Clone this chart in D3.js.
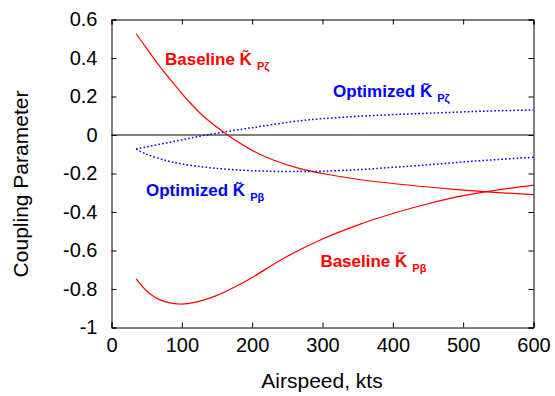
<!DOCTYPE html>
<html>
<head>
<meta charset="utf-8">
<script src="https://cdn.jsdelivr.net/npm/d3@7"></script>
<style>
  html, body { margin: 0; padding: 0; background: #fff; }
  svg { display: block; font-family: "Liberation Sans", Arial, Helvetica, sans-serif; }
</style>
</head>
<body>
<svg id="chart" width="555" height="396"></svg>
<script>
// Airspeed (kts) samples for each coupling curve
const baseZetaSpeed = [35, 50, 70, 90, 109, 130, 150, 165, 200, 230, 268, 300, 350, 400, 450, 500, 550, 600];
const baseZetaValue = [0.526, 0.45, 0.35, 0.26, 0.178, 0.10, 0.04, 0.0, -0.08, -0.13, -0.175, -0.20, -0.23, -0.252, -0.27, -0.286, -0.299, -0.31];

const baseBetaSpeed = [35, 50, 70, 97, 120, 150, 183, 200, 250, 300, 350, 400, 450, 500, 550, 600];
const baseBetaValue = [-0.748, -0.81, -0.858, -0.878, -0.868, -0.833, -0.775, -0.74, -0.63, -0.54, -0.468, -0.408, -0.357, -0.315, -0.285, -0.26];

const optZetaSpeed = [35, 85, 135, 200, 268, 300, 350, 400, 450, 500, 550, 600];
const optZetaValue = [-0.073, -0.036, 0.0, 0.038, 0.074, 0.085, 0.097, 0.106, 0.113, 0.12, 0.126, 0.13];

const optBetaSpeed = [35, 50, 78, 100, 135, 173, 220, 268, 300, 350, 400, 450, 500, 550, 600];
const optBetaValue = [-0.073, -0.10, -0.133, -0.15, -0.168, -0.18, -0.188, -0.19, -0.188, -0.18, -0.168, -0.155, -0.14, -0.127, -0.116];

// Tick values
const xTicks = [0, 100, 200, 300, 400, 500, 600];
const yTicks = [-1, -0.8, -0.6, -0.4, -0.2, 0, 0.2, 0.4, 0.6];

// Curve annotations: name, subscript, colour, anchor in data units
const annoText = ["Baseline", "Optimized", "Optimized", "Baseline"];
const annoSub = ["P\u03B6", "P\u03B6", "P\u03B2", "P\u03B2"];
const annoColor = ["#ff0000", "#0000ff", "#0000ff", "#ff0000"];
const annoSpeed = [76, 315, 49, 297];
const annoValue = [0.365, 0.195, -0.319, -0.684];

const svg = d3.select("#chart");
const x = d3.scaleLinear().domain([0, 600]).range([111.5, 533.5]);
const y = d3.scaleLinear().domain([-1, 0.6]).range([327.5, 19.5]);

// Zero reference line
svg.append("line")
  .attr("x1", x(0)).attr("x2", x(600))
  .attr("y1", y(0)).attr("y2", y(0))
  .attr("stroke", "#000").attr("stroke-width", 1);

// Curves
const line = d3.line().curve(d3.curveCatmullRom.alpha(0.5)).x(d => x(d[0])).y(d => y(d[1]));
const series = [
  { s: baseZetaSpeed, v: baseZetaValue, c: "#ff0000", dash: null },
  { s: baseBetaSpeed, v: baseBetaValue, c: "#ff0000", dash: null },
  { s: optZetaSpeed, v: optZetaValue, c: "#0000ff", dash: "1.6,2.2" },
  { s: optBetaSpeed, v: optBetaValue, c: "#0000ff", dash: "1.6,2.2" }
];
series.forEach(d => {
  svg.append("path")
    .datum(d3.zip(d.s, d.v))
    .attr("d", line)
    .attr("fill", "none")
    .attr("stroke", d.c)
    .attr("stroke-width", d.dash ? 1.5 : 1.2)
    .attr("stroke-dasharray", d.dash);
});

// Axes with inward ticks on all four sides
const tickLen = 5;
const gB = svg.append("g").attr("transform", `translate(0,${y(-1)})`)
  .call(d3.axisBottom(x).tickValues(xTicks).tickSize(-tickLen).tickPadding(10).tickFormat(d3.format("d")));
const gT = svg.append("g").attr("transform", `translate(0,${y(0.6)})`)
  .call(d3.axisTop(x).tickValues(xTicks).tickSize(-tickLen).tickFormat(""));
const gL = svg.append("g").attr("transform", `translate(${x(0)},0)`)
  .call(d3.axisLeft(y).tickValues(yTicks).tickSize(-tickLen).tickPadding(14)
    .tickFormat(d => (d === 0 ? "0" : String(+d.toFixed(1)))));
const gR = svg.append("g").attr("transform", `translate(${x(600)},0)`)
  .call(d3.axisRight(y).tickValues(yTicks).tickSize(-tickLen).tickFormat(""));

[gB, gT, gL, gR].forEach(g => {
  g.select(".domain").attr("stroke", "#000").attr("stroke-width", 1);
  g.selectAll(".tick line").attr("stroke", "#000");
  g.selectAll("text").attr("fill", "#000").style("font-size", "20px")
    .style("font-family", "'Liberation Sans', Arial, sans-serif");
});

// Axis titles
svg.append("text")
  .attr("x", 322).attr("y", 388)
  .attr("text-anchor", "middle")
  .style("font-size", "21px")
  .text("Airspeed, kts");
svg.append("text")
  .attr("transform", "translate(28,184) rotate(-90)")
  .attr("text-anchor", "middle")
  .style("font-size", "21px")
  .text("Coupling Parameter");

// Curve annotations
annoText.forEach((t, i) => {
  const tx = svg.append("text")
    .attr("x", x(annoSpeed[i])).attr("y", y(annoValue[i]))
    .attr("fill", annoColor[i])
    .style("font-size", "17px").style("font-weight", "bold");
  tx.append("tspan").text(t + " K\u0303");
  tx.append("tspan").attr("dx", 5).attr("dy", 5)
    .style("font-size", "11px").text(annoSub[i]);
});
</script>
</body>
</html>
